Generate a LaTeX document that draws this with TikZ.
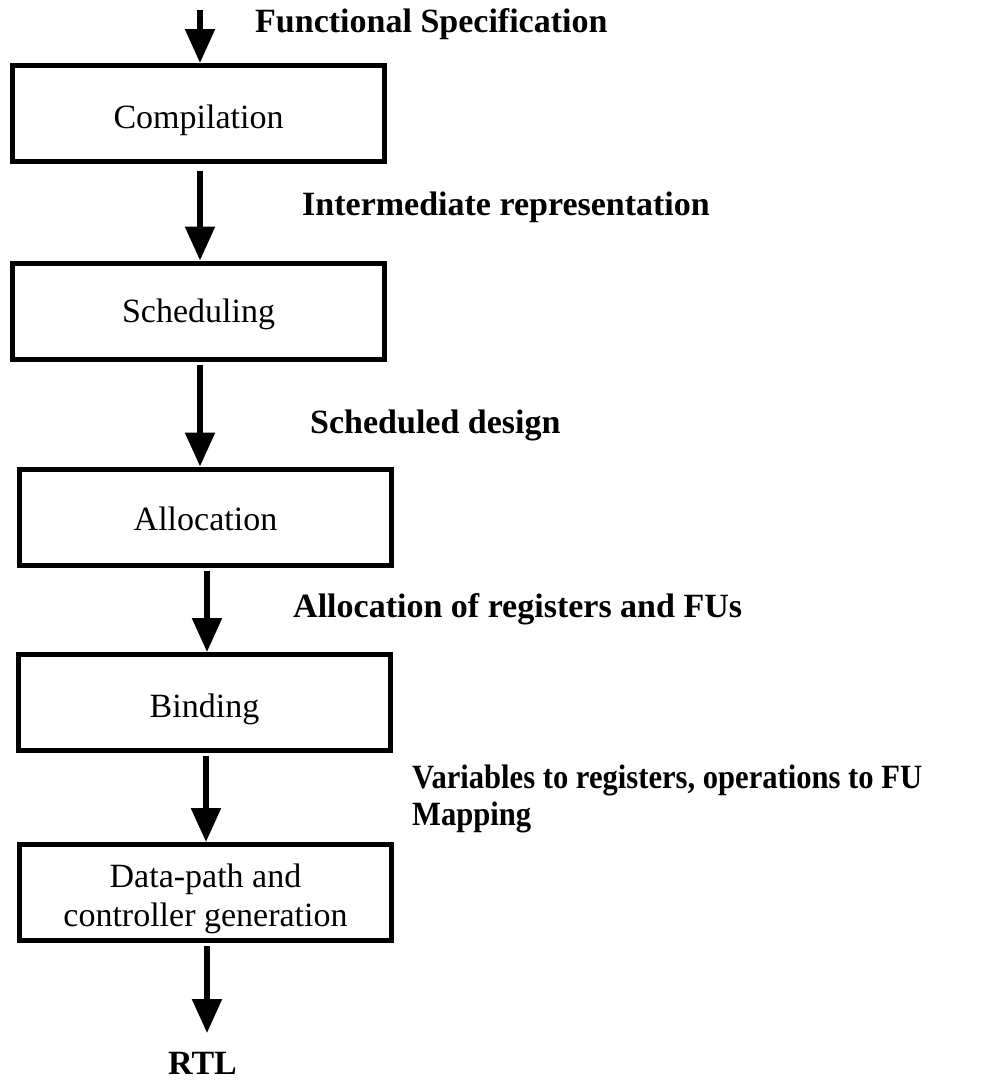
\documentclass[tikz,border=0pt]{standalone}
\usepackage{fontspec}
\setmainfont{Liberation Serif}
\usetikzlibrary{arrows.meta}
\begin{document}
\begin{tikzpicture}[x=1pt,y=-1pt,
  stage/.style={draw, line width=5pt, rectangle, minimum width=372pt,
    minimum height=96pt, inner sep=0pt, align=center,
    text height=30pt, text depth=4pt,
    font=\fontsize{34}{39}\selectfont},
  flow/.style={line width=5.5pt, -{Triangle[length=34pt,width=29pt]}},
  note/.style={anchor=base west, inner sep=0pt, align=left,
    font=\fontsize{34}{37}\selectfont\bfseries}]
\useasboundingbox (0,0) rectangle (998,1082);

% processing stages
\node[stage, text depth=1pt] (comp)  at (198.5,113.5) {Compilation};
\node[stage, text depth=8pt] (sched) at (198.5,311)   {Scheduling};
\node[stage]                 (alloc) at (205.5,517)   {Allocation};
\node[stage, text depth=1pt] (bind)  at (204.5,702.5) {Binding};
\node[stage, text height=72pt, text depth=5pt]
                             (dp)    at (205.5,892.5) {Data-path and\\controller generation};

% intermediate results (base = last line)
\node[note] (spec)   at (255,32)  {Functional Specification};
\node[note] (ir)     at (302,215) {Intermediate representation};
\node[note] (sdes)   at (310,433) {Scheduled design};
\node[note] (alres)  at (293,617) {Allocation of registers and FUs};
\node[note] (bmap)   at (412,825) {\scalebox{0.9}[1]{Variables to registers, operations to FU}\\\scalebox{0.9}[1]{Mapping}};
\node[anchor=base, inner sep=0pt, font=\fontsize{34}{39}\selectfont\bfseries]
  (rtl) at (202.5,1074) {RTL};

% flow arrows
\coordinate (in)  at (200,10);
\coordinate (out) at (207,1033);
\draw[flow] (in) -- (in |- comp.north);
\draw[flow] ([xshift=1.5pt,yshift=-7pt]comp.south) -- ([xshift=1.5pt]sched.north);
\draw[flow] ([xshift=1.5pt,yshift=-3pt]sched.south) -- ([xshift=1.5pt]sched.south |- alloc.north);
\draw[flow] ([xshift=1.5pt,yshift=-3pt]alloc.south) -- ([xshift=1.5pt]alloc.south |- bind.north);
\draw[flow] ([xshift=1.5pt,yshift=-3pt]bind.south) -- ([xshift=1.5pt]bind.south |- dp.north);
\draw[flow] ([xshift=1.5pt,yshift=-3pt]dp.south) -- (out);
\end{tikzpicture}
\end{document}
